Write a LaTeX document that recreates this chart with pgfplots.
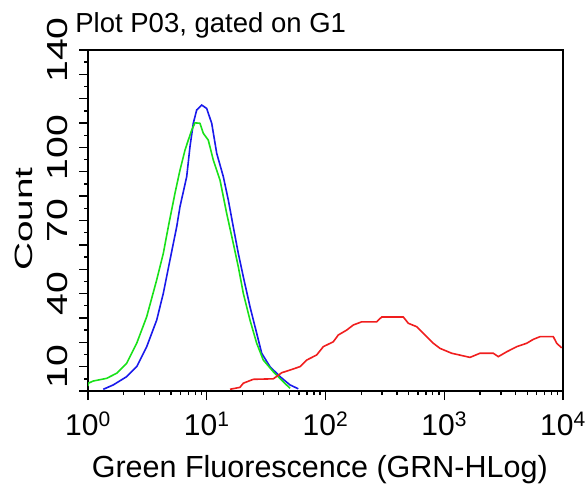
\documentclass[border=0pt]{standalone}
\usepackage{fontspec}
\setmainfont{Liberation Sans}
\usepackage{graphicx}
\usepackage{pgfplots}
\pgfplotsset{compat=1.18}

\definecolor{fcblue}{RGB}{25,25,235}
\definecolor{fcgreen}{RGB}{25,225,25}
\definecolor{fcred}{RGB}{240,30,30}
% rotated labels in the reference are stretched along their length
\newcommand{\sy}[1]{\scalebox{1.35}[1]{#1}}

\begin{document}
\begin{tikzpicture}
\path[use as bounding box] (0,0) rectangle (587bp,485bp);
\begin{axis}[
    at={(88bp,94bp)}, anchor=south west,
    scale only axis, width=475bp, height=341bp,
    xmode=log, xmin=1, xmax=10000, ymin=0, ymax=140,
    axis line style={line width=1.4bp},
    xtick={1,10,100,1000,10000},
    xticklabels={10\textsuperscript{0},10\textsuperscript{1},10\textsuperscript{2},10\textsuperscript{3},10\textsuperscript{4}},
    minor xtick={2,3,4,5,6,7,8,9,20,30,40,50,60,70,80,90,200,300,400,500,600,700,800,900,2000,3000,4000,5000,6000,7000,8000,9000},
    ytick={0,10,...,140},
    yticklabels={,\sy{10},,,\sy{40},,,\sy{70},,,\sy{100},,,,\sy{140}},
    minor ytick={5,15,...,135},
    tick align=outside, xtick pos=left, ytick pos=left,
    major tick length=9bp, minor tick length=4bp,
    tick style={black, line width=1.4bp},
    xticklabel shift=11bp, yticklabel shift=10bp,
    xticklabel style={font=\fontsize{30bp}{32bp}\selectfont, inner sep=1bp},
    yticklabel style={font=\fontsize{29bp}{31bp}\selectfont, rotate=90, anchor=south, inner sep=1bp},
    title={Plot P03, gated on G1},
    title style={at={(axis description cs:-0.027,1.035)}, anchor=base west,
        font=\fontsize{27.5bp}{30bp}\selectfont, inner sep=0pt},
    xlabel={Green Fluorescence (GRN-HLog)},
    xlabel style={at={(axis description cs:0.488,-0.255)}, anchor=base,
        font=\fontsize{30.5bp}{32bp}\selectfont, inner sep=0pt},
    ylabel={\scalebox{1.55}[1]{Count}},
    ylabel style={at={(axis description cs:-0.135,0.504)}, anchor=center,
        font=\fontsize{25bp}{27bp}\selectfont, inner sep=0pt},
    every axis plot/.append style={line width=1.6bp, sharp plot},
]
% blue histogram
\addplot[fcblue] coordinates {
 (1.345,0.7) (1.633,2.5) (2.118,5.9) (2.572,10.0) (3.122,18.2) (3.789,29.1)
 (4.307,40.1) (4.903,53.8) (5.583,67.4) (5.953,75.7) (6.780,88.0) (7.226,100.3)
 (7.702,109.9) (8.231,115.4) (9.069,117.4) (9.99,116.0) (11.01,109.9) (12.13,97.6)
 (13.79,88.0) (15.19,78.4) (16.73,67.4) (18.44,56.5) (20.32,46.9) (23.13,34.6)
 (26.34,23.7) (29.02,15.5) (34.09,10.0) (41.40,5.9) (50.24,2.5) (59.02,0.9)
};
% green histogram
\addplot[fcgreen] coordinates {
 (1.0,2.0) (1.006,3.2) (1.108,4.1) (1.437,5.2) (1.744,7.3) (2.118,11.4) (2.572,19.6)
 (3.122,30.5) (3.789,45.6) (4.307,56.5) (4.745,67.4) (5.402,81.2) (5.953,90.7)
 (6.558,98.9) (6.992,103.0) (7.469,107.1) (7.963,110.1) (8.774,109.9) (9.353,105.8)
 (10.30,103.0) (11.36,94.8) (12.93,86.6) (14.72,72.9) (16.73,60.6) (18.44,51.0)
 (20.32,40.1) (23.13,29.1) (26.34,19.6) (29.94,12.7) (36.36,7.9) (44.13,3.8) (50.24,1.1)
};
% red histogram
\addplot[fcred] coordinates {
 (15.70,0.7) (19.05,1.5) (20.32,3.2) (24.66,4.8) (36.36,5.0) (42.79,7.5) (50.24,8.6)
 (60.99,10.0) (69.46,12.7) (84.33,14.8) (95.83,18.2) (116.3,20.2) (128.2,23.0)
 (150.8,25.0) (171.5,27.1) (201.7,28.4) (269.9,28.4) (297.4,30.4) (451.9,30.4)
 (498.1,27.8) (586.1,26.4) (666.3,23.7) (808.7,19.6) (920.9,17.5) (1155,15.5)
 (1648,13.8) (2000,15.5) (2589,15.5) (2852,14.1) (3357,16.1) (4075,18.2)
 (4947,19.6) (5623,21.2) (6403,22.3) (8288,22.3) (8851,19.6) (9752,17.7)
};
\end{axis}
\end{tikzpicture}
\end{document}
